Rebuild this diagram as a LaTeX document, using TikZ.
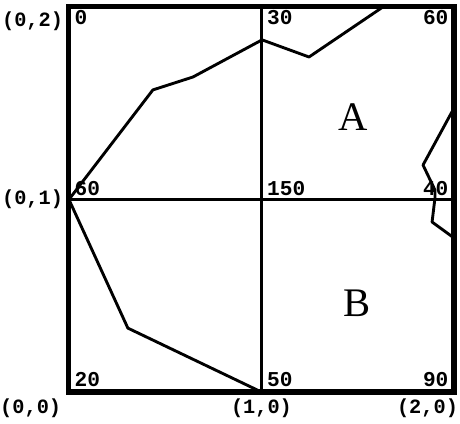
\documentclass[tikz,border=0pt]{standalone}
\usepackage{fontspec}
\setmonofont{Liberation Mono}
\newfontfamily\letterfont{Liberation Serif}
\usepackage{tikz}
\definecolor{inkblack}{RGB}{0,0,0}

\begin{document}
\begin{tikzpicture}[x=4cm,y=4cm,
  cornerlbl/.style={font=\ttfamily\bfseries\fontsize{12}{12}\selectfont, inner sep=1pt},
  valuelbl/.style={font=\ttfamily\bfseries\fontsize{12.5}{13}\selectfont, inner sep=2pt},
  regionlbl/.style={font=\letterfont\fontsize{24}{24}\selectfont},
  curve/.style={inkblack, line width=1.7pt, line join=round}]
\useasboundingbox (-0.358,-0.161) rectangle (2.031,2.036);
\draw[inkblack, line width=1.3pt] (1,0) -- (1,2);
\draw[inkblack, line width=1.3pt] (0,1) -- (2,1);
\draw[curve] (1.631,2) -- (1.247,1.740) -- (1.003,1.829) -- (0.644,1.636) -- (0.436,1.569) -- (0,1) -- (0.306,0.332) -- (1,0);
\draw[curve] (2,1.475) -- (1.839,1.179) -- (1.901,1.049) -- (1.901,1.008) -- (1.886,0.883) -- (2,0.8);
\draw[inkblack, line width=3pt, line join=miter] (0,0) rectangle (2,2);
\node[cornerlbl, anchor=north east] (c02) at (-0.02,1.985) {(0,2)};
\node[cornerlbl, anchor=east] (c01) at (-0.02,1) {(0,1)};
\node[cornerlbl, anchor=north east] (c00) at (-0.03,-0.025) {(0,0)};
\node[cornerlbl, anchor=north] (c10) at (1,-0.025) {(1,0)};
\node[cornerlbl, anchor=north east] (c20) at (2.031,-0.025) {(2,0)};
\node[valuelbl, anchor=north west] (v0) at (0.01,2) {0};
\node[valuelbl, anchor=north west] (v30) at (1.01,2) {30};
\node[valuelbl, anchor=north east] (v60t) at (1.99,2) {60};
\node[valuelbl, anchor=south west] (v60m) at (0.01,1) {60};
\node[valuelbl, anchor=south west] (v150) at (1.01,1) {150};
\node[valuelbl, anchor=south east] (v40) at (1.99,1) {40};
\node[valuelbl, anchor=south west] (v20) at (0.01,0.01) {20};
\node[valuelbl, anchor=south west] (v50) at (1.01,0.01) {50};
\node[valuelbl, anchor=south east] (v90) at (1.99,0.01) {90};
\node[regionlbl] (regA) at (1.475,1.429) {A};
\node[regionlbl] (regB) at (1.496,0.462) {B};
\end{tikzpicture}
\end{document}
